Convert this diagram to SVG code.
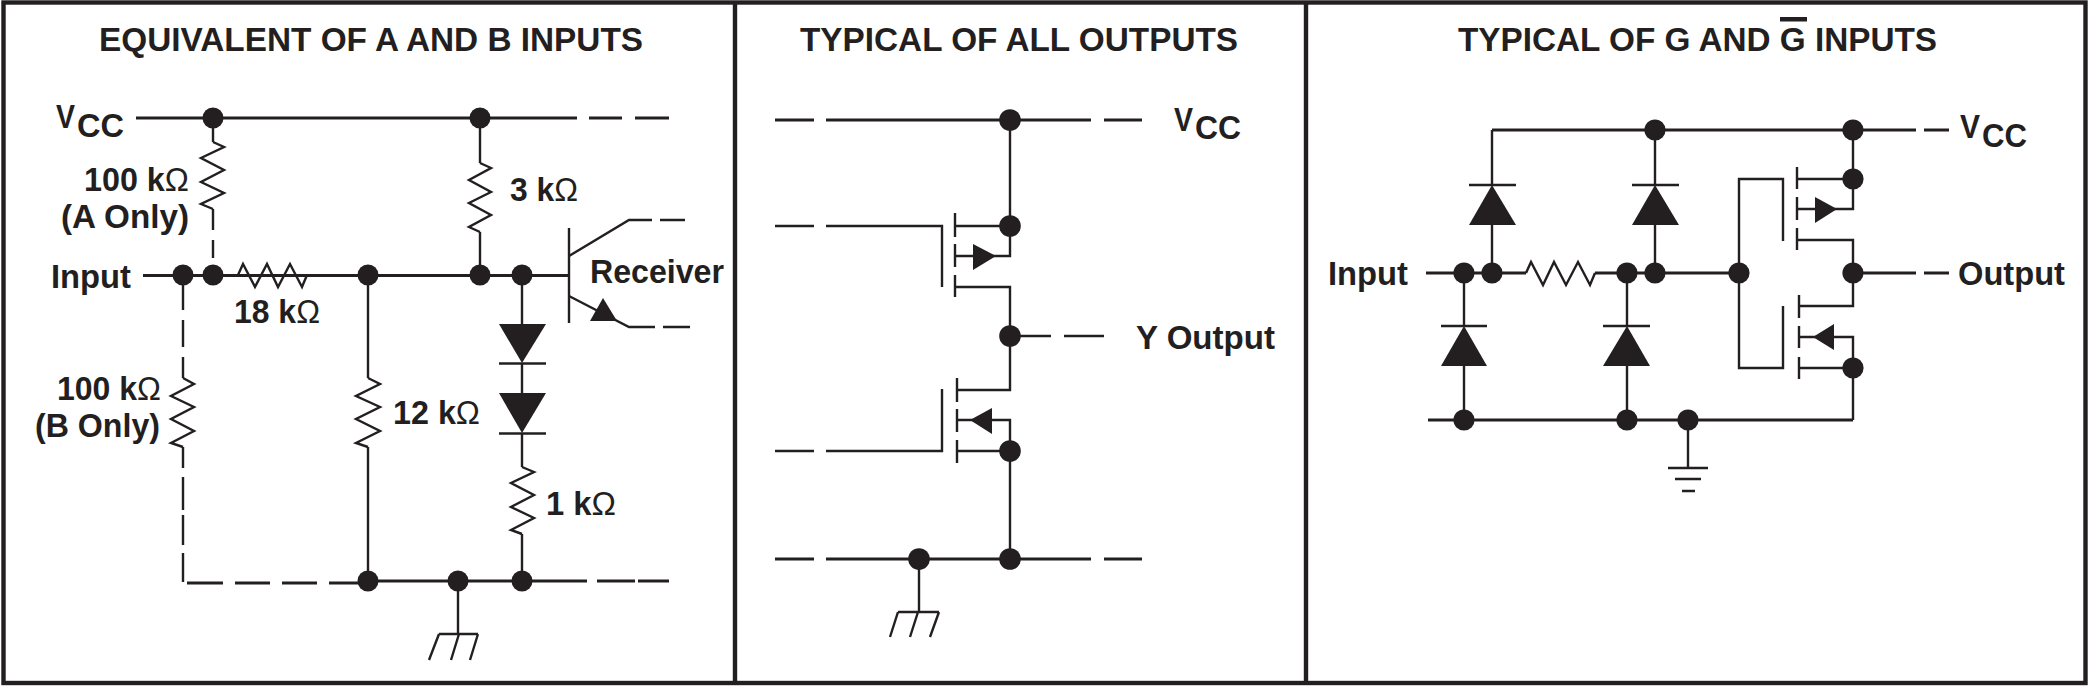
<svg xmlns="http://www.w3.org/2000/svg" width="2088" height="686" viewBox="0 0 2088 686">
<style>
text{font-family:"Liberation Sans",Arial,sans-serif;font-weight:700;font-size:34px;fill:#231f20}
.om{font-weight:400}
.w{fill:none;stroke:#231f20;stroke-width:2.4}
.h{fill:none;stroke:#231f20;stroke-width:2.8}
.f{fill:none;stroke:#231f20;stroke-width:4.4}
.s{fill:#231f20;stroke:none}
.j{fill:#231f20;stroke:none}
</style>
<rect width="2088" height="686" fill="#fff"/>
<g id="frame">
<rect class="f" x="3.500" y="2.500" width="2082" height="680.500"/>
<path class="f" d="M735 2V683M1306 2V683"/>
</g>
<g id="connectors">
<path class="h" d="M136 118H577M589 118H622M635 118H669"/>
<path class="h" d="M143 275.500H569"/>
<path class="h" d="M368 581H587M597 581H635M638 581H669"/>
<path class="h" d="M187 583H223M235 583H270M282 583H317M329 583H359"/>
<path class="w" d="M213 118V142M213 209V230M213 240V258"/>
<path class="w" d="M480 118V163M480 232V275"/>
<path class="w" d="M183 275V310M183 320V347M183 357V378M183 447V468M183 477V510M183 515V545M183 553V582"/>
<path class="w" d="M368 275V378M368 447V581"/>
<path class="w" d="M522 275V324M522 363V393M522 433V467M522 534V581"/>
<path class="w" d="M458 581V634"/>
<path class="w" d="M569 256L629 220H652M660 220H685"/>
<path class="w" d="M569 296L629 327H655M663 327H690"/>
<path class="h" d="M775 120H814M826 120H1091M1104 120H1142"/>
<path class="h" d="M775 559H814M826 559H1091M1104 559H1142"/>
<path class="w" d="M1010 120V256H955"/>
<path class="w" d="M955 226H1010"/>
<path class="w" d="M775 226H814M826 226H942V287"/>
<path class="w" d="M955 287H1010V390H957"/>
<path class="w" d="M1010 336H1051M1064 336H1104"/>
<path class="w" d="M775 451H814M826 451H942V389"/>
<path class="w" d="M957 420H1010V559"/>
<path class="w" d="M957 451H1010"/>
<path class="w" d="M919 559V612"/>
<path class="h" d="M1492 130H1916M1924 130H1949"/>
<path class="h" d="M1426 273H1526M1595 273H1739M1853 273H1916M1924 273H1949"/>
<path class="h" d="M1428 420H1853"/>
<path class="w" d="M1492 130V185M1492 225V273"/>
<path class="w" d="M1655 130V185M1655 225V273"/>
<path class="w" d="M1464 273V326M1464 366V420"/>
<path class="w" d="M1627 273V326M1627 366V420"/>
<path class="w" d="M1783 241V179H1739V368H1783V306"/>
<path class="w" d="M1853 130V209H1797"/>
<path class="w" d="M1797 179H1853"/>
<path class="w" d="M1797 240H1853V306H1799"/>
<path class="w" d="M1799 337H1853V420"/>
<path class="w" d="M1799 368H1853"/>
<path class="w" d="M1688 420V468"/>
</g>
<g id="panel-a-and-b-inputs">
<text id="title-1" x="99" y="51" textLength="544" lengthAdjust="spacingAndGlyphs">EQUIVALENT OF A AND B INPUTS</text>
<g id="vcc-1"><text x="56" y="128" textLength="19" lengthAdjust="spacingAndGlyphs">V</text><text x="77" y="137" textLength="47" lengthAdjust="spacingAndGlyphs">CC</text></g>
<text id="input-1" x="51" y="288" textLength="80" lengthAdjust="spacingAndGlyphs">Input</text>
<g id="r-100k-a"><path class="w" d="M213 142L224 147L201 158L224 170L201 182L224 193L201 204L213 209"/><text x="84" y="191" textLength="105" lengthAdjust="spacingAndGlyphs">100 k<tspan class="om">Ω</tspan></text><text x="61" y="228" textLength="128" lengthAdjust="spacingAndGlyphs">(A Only)</text></g>
<g id="r-3k"><path class="w" d="M480 163L491 168L469 180L491 192L469 203L491 215L469 227L480 232"/><text x="510" y="201" textLength="68" lengthAdjust="spacingAndGlyphs">3 k<tspan class="om">Ω</tspan></text></g>
<g id="r-18k"><path class="w" d="M238 275L243 264L255 287L267 264L278 287L290 264L302 287L307 275"/><text x="234" y="323" textLength="86" lengthAdjust="spacingAndGlyphs">18 k<tspan class="om">Ω</tspan></text></g>
<g id="r-100k-b"><path class="w" d="M183 378L194 384L171 396L194 407L171 419L194 431L171 443L183 447"/><text x="57" y="400" textLength="104" lengthAdjust="spacingAndGlyphs">100 k<tspan class="om">Ω</tspan></text><text x="35" y="437" textLength="125" lengthAdjust="spacingAndGlyphs">(B Only)</text></g>
<g id="r-12k"><path class="w" d="M368 378L380 384L356 396L380 407L356 419L380 431L356 443L368 447"/><text x="393" y="424" textLength="87" lengthAdjust="spacingAndGlyphs">12 k<tspan class="om">Ω</tspan></text></g>
<g id="r-1k"><path class="w" d="M522 467L534 472L511 483L534 495L511 507L534 518L511 530L522 534"/><text x="546" y="515" textLength="70" lengthAdjust="spacingAndGlyphs">1 k<tspan class="om">Ω</tspan></text></g>
<g id="d-1"><path class="s" d="M499 324H546L522 363Z"/><path class="w" d="M499 363.500H546"/></g>
<g id="d-2"><path class="s" d="M499 393H546L522 433Z"/><path class="w" d="M499 433.500H546"/></g>
<g id="q-receiver"><path class="w" d="M569 228V323"/><path class="s" d="M603 298L590 321H617Z"/><text x="590" y="283" textLength="134" lengthAdjust="spacingAndGlyphs">Receiver</text></g>
<g id="gnd-1"><path class="w" d="M439 634H478M439 634L429 660M459 634L451 660M478 634L470 660"/></g>
<g id="junctions-1"><circle class="j" cx="213" cy="118" r="10.500"/><circle class="j" cx="480" cy="118" r="10.500"/><circle class="j" cx="183" cy="275" r="10.500"/><circle class="j" cx="213" cy="275" r="10.500"/><circle class="j" cx="368" cy="275" r="10.500"/><circle class="j" cx="480" cy="275" r="10.500"/><circle class="j" cx="522" cy="275" r="10.500"/><circle class="j" cx="368" cy="581" r="10.500"/><circle class="j" cx="458" cy="581" r="10.500"/><circle class="j" cx="522" cy="581" r="10.500"/></g>
</g>
<g id="panel-all-outputs">
<text id="title-2" x="800" y="51" textLength="438" lengthAdjust="spacingAndGlyphs">TYPICAL OF ALL OUTPUTS</text>
<g id="vcc-2"><text x="1174" y="131" textLength="19" lengthAdjust="spacingAndGlyphs">V</text><text x="1195" y="139" textLength="46" lengthAdjust="spacingAndGlyphs">CC</text></g>
<text id="y-output" x="1136" y="349" textLength="139" lengthAdjust="spacingAndGlyphs">Y Output</text>
<g id="q-upper"><path class="w" d="M955 213V237M955 244V267M955 275V297"/><path class="s" d="M996 256L973 244V270Z"/></g>
<g id="q-lower"><path class="w" d="M957 378V402M957 409V432M957 440V463"/><path class="s" d="M970 420L992 408V434Z"/></g>
<g id="gnd-2"><path class="w" d="M898 612H939M898 612L890 637M918 612L910 637M939 612L930 637"/></g>
<g id="junctions-2"><circle class="j" cx="1010" cy="120" r="10.800"/><circle class="j" cx="1010" cy="226" r="10.800"/><circle class="j" cx="1010" cy="336" r="10.800"/><circle class="j" cx="1010" cy="451" r="10.800"/><circle class="j" cx="1010" cy="559" r="10.800"/><circle class="j" cx="919" cy="559" r="10.800"/></g>
</g>
<g id="panel-g-inputs">
<text id="title-3" x="1458" y="51" textLength="479" lengthAdjust="spacingAndGlyphs">TYPICAL OF G AND G INPUTS</text>
<rect class="s" x="1780" y="17" width="27" height="4.500"/>
<g id="vcc-3"><text x="1960" y="138" textLength="20" lengthAdjust="spacingAndGlyphs">V</text><text x="1982" y="147" textLength="45" lengthAdjust="spacingAndGlyphs">CC</text></g>
<text id="input-3" x="1328" y="285" textLength="80" lengthAdjust="spacingAndGlyphs">Input</text>
<text id="output-3" x="1958" y="285" textLength="107" lengthAdjust="spacingAndGlyphs">Output</text>
<g id="r-input"><path class="w" d="M1526 273L1531 262L1543 285L1554 262L1566 285L1578 262L1590 285L1595 273"/></g>
<g id="d-3"><path class="s" d="M1469 225H1516L1492 185Z"/><path class="w" d="M1469 185H1516"/></g>
<g id="d-4"><path class="s" d="M1632 225H1679L1655 185Z"/><path class="w" d="M1632 185H1679"/></g>
<g id="d-5"><path class="s" d="M1441 366H1487L1464 326Z"/><path class="w" d="M1441 326H1487"/></g>
<g id="d-6"><path class="s" d="M1603 366H1650L1627 326Z"/><path class="w" d="M1603 326H1650"/></g>
<g id="q-p"><path class="w" d="M1797 167V189M1797 197V220M1797 228V250"/><path class="s" d="M1837 209L1815 197V223Z"/></g>
<g id="q-n"><path class="w" d="M1799 295V318M1799 326V348M1799 357V379"/><path class="s" d="M1813 337L1834 324V350Z"/></g>
<g id="gnd-3"><path class="w" d="M1668 468H1708M1675 479H1701M1682 491H1695"/></g>
<g id="junctions-3"><circle class="j" cx="1655" cy="130" r="10.600"/><circle class="j" cx="1853" cy="130" r="10.600"/><circle class="j" cx="1853" cy="179" r="10.600"/><circle class="j" cx="1464" cy="273" r="10.600"/><circle class="j" cx="1492" cy="273" r="10.600"/><circle class="j" cx="1627" cy="273" r="10.600"/><circle class="j" cx="1655" cy="273" r="10.600"/><circle class="j" cx="1739" cy="273" r="10.600"/><circle class="j" cx="1853" cy="273" r="10.600"/><circle class="j" cx="1853" cy="368" r="10.600"/><circle class="j" cx="1464" cy="420" r="10.600"/><circle class="j" cx="1627" cy="420" r="10.600"/><circle class="j" cx="1688" cy="420" r="10.600"/></g>
</g>
</svg>
